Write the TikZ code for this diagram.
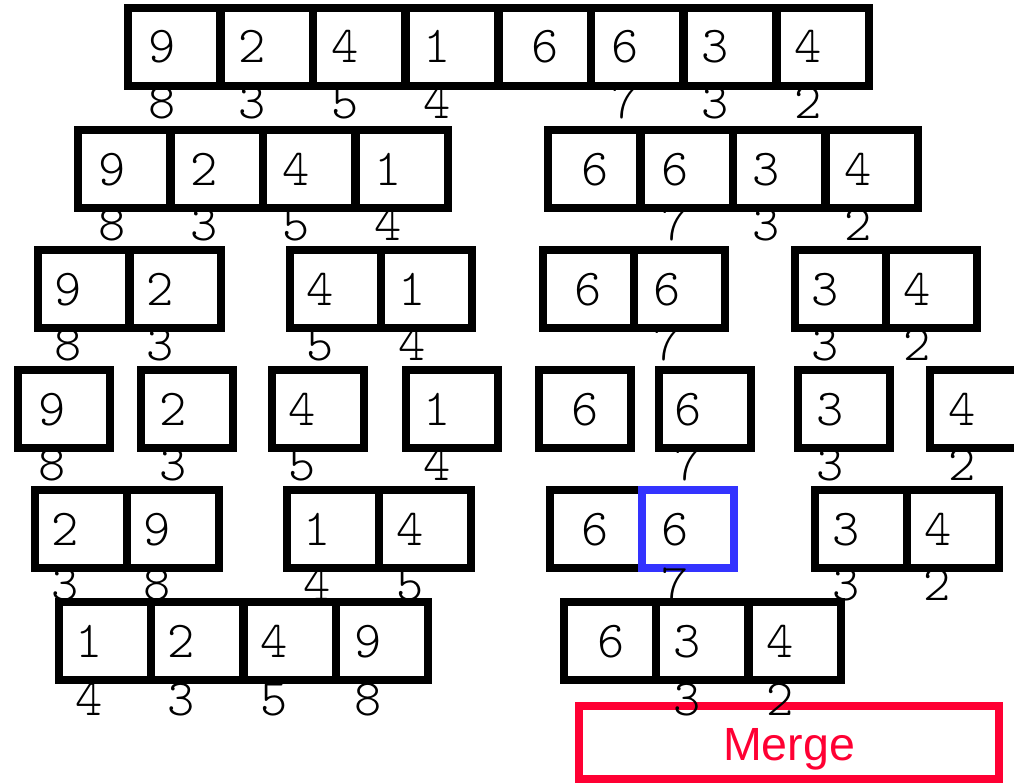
\documentclass[tikz,border=0pt]{standalone}
\usepackage{fontspec}
\setmainfont{Liberation Sans}
\newfontfamily\cellfont{Latin Modern Mono Light}
\usetikzlibrary{positioning}
\definecolor{sortblue}{RGB}{51,51,255}
\definecolor{sortred}{RGB}{255,0,51}

\begin{document}
\begin{tikzpicture}[x=0.02cm,y=-0.02cm,line join=miter,
  cell/.style={draw=black,line width=0.16cm,anchor=north west,minimum width=1.85cm,minimum height=1.56cm,inner sep=0pt,outer sep=0pt},
  val/.style={anchor=base,inner sep=0pt,font=\cellfont\fontsize{29.5}{31}\selectfont},
  idx/.style={val},
  mergebox/.style={draw=sortred,line width=0.16cm,minimum width=8.4cm,minimum height=1.46cm,inner sep=0pt},
  mergetext/.style={anchor=base,inner sep=0pt,text=sortred,font=\fontsize{26.5}{28}\selectfont}]
 \useasboundingbox (0,0) rectangle (1014,784);
 % row 1: whole array
 \foreach \n/\l in {1/128,2/221,3/313,4/406,5/499,6/591,7/684,8/777}
  \node[cell] (a\n) at (\l,8) {};
 \foreach \n/\x/\v in {1/162/9,2/252/2,3/345/4,4/437/1,5/545/6,6/625/6,7/715/3,8/808/4}
  \node[val] (av\n) at (\x,63) {\v};
 % row 2: halves
 \foreach \n/\l in {1/78,2/171,3/263,4/356,5/548,6/641,7/733,8/826}
  \node[cell] (b\n) at (\l,130) {};
 \foreach \n/\x/\v in {1/112/9,2/204/2,3/296/4,4/388/1,5/595/6,6/675/6,7/766/3,8/858/4}
  \node[val] (bv\n) at (\x,185) {\v};
 % row 3: quarters
 \foreach \n/\l in {1/38,2/130,3/290,4/381,5/543,6/634,7/795,8/886}
  \node[cell,minimum width=1.82cm] (c\n) at (\l,250) {};
 \foreach \n/\x/\v in {1/68/9,2/160/2,3/320/4,4/412/1,5/588/6,6/667/6,7/825/3,8/917/4}
  \node[val] (cv\n) at (\x,305) {\v};
 % row 4: single cells
 \foreach \n/\l in {1/18,2/141,3/272,4/406,5/539,6/659,7/798,8/930}
  \node[cell] (d\n) at (\l,370) {};
 \foreach \n/\x/\v in {1/52/9,2/173/2,3/302/4,4/437/1,5/585/6,6/688/6,7/830/3,8/962/4}
  \node[val] (dv\n) at (\x,425) {\v};
 % row 5: merged pairs
 \foreach \n/\l in {1/35,2/127,3/287,4/379,5/550,7/815,8/907}
  \node[cell] (e\n) at (\l,490) {};
 \node[cell,draw=sortblue] (e6) at (642,490) {};
 \foreach \n/\x/\v in {1/65/2,2/157/9,3/317/1,4/410/4,5/595/6,6/675/6,7/846/3,8/938/4}
  \node[val] (ev\n) at (\x,545) {\v};
 % row 6
 \foreach \n/\l in {1/59,2/151,3/244,4/336,5/564,6/656,7/749}
  \node[cell] (f\n) at (\l,602) {};
 \foreach \n/\x/\v in {1/89/1,2/181/2,3/274/4,4/368/9,5/611/6,6/687/3,7/780/4}
  \node[val] (fv\n) at (\x,657) {\v};
 % merge step
 \node[mergebox] (merge) at (789,742.5) {};
 \node[mergetext] (mergelbl) at (789,760) {Merge};
 % original positions under the cells
 \foreach \n/\x/\i in {1/162/8,2/252/3,3/345/5,4/437/4,6/625/7,7/715/3,8/808/2}
  \node[idx] (ai\n) at (\x,118) {\i};
 \foreach \n/\x/\i in {1/112/8,2/204/3,3/296/5,4/388/4,6/675/7,7/766/3,8/858/2}
  \node[idx] (bi\n) at (\x,240) {\i};
 \foreach \n/\x/\i in {1/68/8,2/160/3,3/320/5,4/412/4,6/667/7,7/825/3,8/917/2}
  \node[idx] (ci\n) at (\x,360) {\i};
 \foreach \n/\x/\i in {1/52/8,2/173/3,3/302/5,4/437/4,6/688/7,7/830/3,8/962/2}
  \node[idx] (di\n) at (\x,480) {\i};
 \foreach \n/\x/\i in {1/65/3,2/157/8,3/317/4,4/410/5,6/675/7,7/846/3,8/937/2}
  \node[idx] (ei\n) at (\x,600) {\i};
 \foreach \n/\x/\i in {1/89/4,2/181/3,3/274/5,4/368/8,6/687/3,7/780/2}
  \node[idx] (fi\n) at (\x,715) {\i};
\end{tikzpicture}
\end{document}
